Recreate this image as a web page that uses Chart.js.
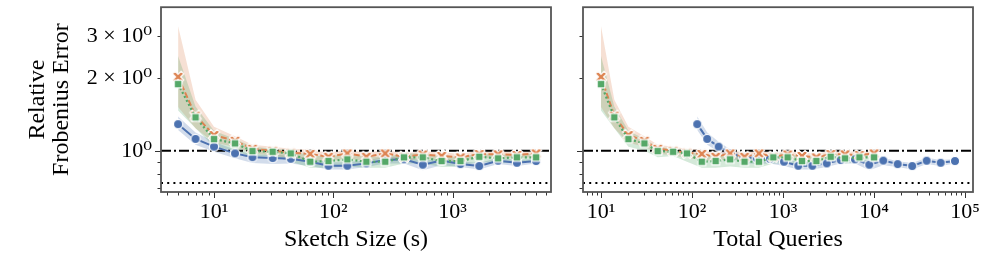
<!DOCTYPE html>
<html>
<head>
<meta charset="utf-8">
<script src="https://cdn.jsdelivr.net/npm/chart.js@4.4.1/dist/chart.umd.min.js"></script>
<style>
	html, body { margin:0; padding:0; background:#fff; }
	.panel { position:absolute; top:0; }
</style>
</head>
<body>
<div class="panel" style="left:0px"><canvas id="leftChart" width="560" height="257"></canvas></div>
<div class="panel" style="left:560px"><canvas id="rightChart" width="440" height="257"></canvas></div>
<script>
// ------------------- data -----------------------------------------------//
// sketch size s (left x) and total queries (right x)
const sketchSizes = [5,7,10,15,21,31,44,64,91,131,189,272,391,562,808,1162,1671,2402,3455,5000];
const queriesRest = [10,14,20,30,42,62,88,128,182,262,378,544,782,1124,1616,2324,3342,4804,6910,10000];
const queriesBlue = [114,147,196,266,366,513,719,1026,1472,2100,3020,4300,6180,8870,12650,18200,26300,37900,54000,77600];

// relative frobenius error (same y on both panels)
const blueErr = [1.29,1.12,1.04,0.975,0.94,0.932,0.926,0.90,0.866,0.866,0.886,0.915,0.921,0.875,0.91,0.88,0.864,0.909,0.891,0.906];
const blueLo  = [1.22,1.06,0.99,0.93,0.89,0.88,0.885,0.865,0.835,0.835,0.855,0.885,0.885,0.83,0.87,0.855,0.835,0.88,0.865,0.885];
const blueHi  = [1.39,1.19,1.09,1.01,0.965,0.96,0.955,0.93,0.895,0.895,0.915,0.94,0.95,0.905,0.935,0.905,0.89,0.935,0.915,0.925];

const orangeErr = [2.03,1.40,1.162,1.10,1.019,1.0,0.981,0.97,0.944,0.975,0.944,0.975,0.944,0.965,0.951,0.939,0.969,0.966,0.96,0.975];
const orangeLo  = [1.52,1.24,1.08,1.04,0.975,0.955,0.93,0.92,0.90,0.93,0.905,0.935,0.91,0.925,0.915,0.905,0.935,0.93,0.93,0.945];
const orangeHi  = [3.30,1.63,1.26,1.15,1.06,1.04,1.02,1.01,0.98,1.01,0.98,1.01,0.975,0.995,0.985,0.97,1.0,0.995,0.99,1.0];

const greenErr = [1.894,1.377,1.118,1.073,0.997,0.99,0.975,0.90,0.906,0.921,0.90,0.90,0.939,0.939,0.906,0.906,0.944,0.93,0.939,0.939];
const greenLo  = [1.47,1.24,1.04,1.0,0.94,0.95,0.90,0.85,0.85,0.86,0.85,0.85,0.885,0.885,0.855,0.86,0.90,0.885,0.895,0.90];
const greenHi  = [2.48,1.53,1.21,1.12,1.04,1.02,1.01,0.95,0.95,0.965,0.945,0.945,0.975,0.975,0.945,0.945,0.975,0.96,0.97,0.97];

const refLevel = 1.0;     // dash-dot line
const floorLevel = 0.734; // dotted line

// ticks
const yTicks = [0.7, 0.8, 0.9, 1, 2, 3];
const yTickLabels = { 1:'10⁰', 2:'2 × 10⁰', 3:'3 × 10⁰' };
const xTickLabels = { 10:'10¹', 100:'10²', 1000:'10³', 10000:'10⁴', 100000:'10⁵' };

// axis limits
const yMin = 0.6735, yMax = 3.958;
const leftXMin = 3.595, leftXMax = 6670;
const rightXMin = 6.34, rightXMax = 122400;

// ------------------- style --------------------------//
const BLUE = '#4C72B0', ORANGE = '#DD8452', GREEN = '#55A868';
const FONT = "'Liberation Serif', 'DejaVu Serif', serif";

// marker pictures (white edge like seaborn)
function makeMarker( kind, color ){
	const c = document.createElement('canvas');
	c.width = 16; c.height = 16;
	const g = c.getContext('2d');
	g.translate(8, 8);
	g.fillStyle = color; g.strokeStyle = '#fff'; g.lineWidth = 1.2;
	g.beginPath();
	if( kind == 'circle' ){
		g.arc(0, 0, 4.6, 0, Math.PI*2);
	} else if( kind == 'square' ){
		g.rect(-3.9, -3.9, 7.8, 7.8);
	} else {
		// filled X
		g.rotate(Math.PI/4);
		const a = 6.2, w = 1.8;
		const p = [[-w,-a],[w,-a],[w,-w],[a,-w],[a,w],[w,w],[w,a],[-w,a],[-w,w],[-a,w],[-a,-w],[-w,-w]];
		g.moveTo(p[0][0], p[0][1]);
		p.forEach( q => g.lineTo(q[0], q[1]) );
		g.closePath();
	}
	g.fill(); g.stroke();
	return c;
}
const blueMark = makeMarker('circle', BLUE);
const orangeMark = makeMarker('x', ORANGE);
const greenMark = makeMarker('square', GREEN);

function zip( xs, ys ){ return xs.map( (x,i) => ({ x: x, y: ys[i] }) ); }

function band( xs, ys, color, fill, order ){
	return { data: zip(xs, ys), borderColor:'rgba(0,0,0,0)', borderWidth:0, pointRadius:0,
		fill: fill, backgroundColor: color, order: order };
}

function makeSets( xBlue, xRest, xMin, xMax ){
	return [
		// reference lines
		{ data:[{x:xMin,y:refLevel},{x:xMax,y:refLevel}], borderColor:'#000', borderWidth:1.8, borderDash:[10,3,2,3], pointRadius:0, order:5 },
		{ data:[{x:xMin,y:floorLevel},{x:xMax,y:floorLevel}], borderColor:'#000', borderWidth:2, borderDash:[2,4.2], pointRadius:0, order:5 },
		// confidence bands
		band(xBlue, blueHi, 'rgba(76,114,176,0.25)', '+1', 20),
		band(xBlue, blueLo, 'rgba(0,0,0,0)', false, 20),
		band(xRest, orangeHi, 'rgba(221,132,82,0.25)', '+1', 19),
		band(xRest, orangeLo, 'rgba(0,0,0,0)', false, 19),
		band(xRest, greenHi, 'rgba(85,168,104,0.25)', '+1', 18),
		band(xRest, greenLo, 'rgba(0,0,0,0)', false, 18),
		// mean lines
		{ data: zip(xBlue, blueErr), borderColor:BLUE, borderWidth:2, pointStyle:blueMark, pointRadius:5, order:3 },
		{ data: zip(xRest, orangeErr), borderColor:ORANGE, borderWidth:2, borderDash:[6,2.5], pointStyle:orangeMark, pointRadius:5, order:2 },
		{ data: zip(xRest, greenErr), borderColor:GREEN, borderWidth:2.2, borderDash:[2,2.5], pointStyle:greenMark, pointRadius:5, order:1 }
	];
}

// 1..9 x 10^n ticks between min and max
function logTicks( min, max ){
	const out = [];
	for( let e = Math.floor(Math.log10(min)); e <= Math.ceil(Math.log10(max)); e++ ){
		for( let m = 1; m < 10; m++ ){
			const v = m * Math.pow(10, e);
			if( v >= min && v <= max ) out.push({ value: v, major: m == 1 });
		}
	}
	return out;
}

// frame + tick marks (major long, minor short)
const frameTicks = {
	id: 'frameTicks',
	afterDraw( chart ){
		const { ctx, chartArea:a, scales:{ x, y } } = chart;
		ctx.save();
		ctx.strokeStyle = '#333'; ctx.lineWidth = 1;
		ctx.beginPath();
		x.ticks.forEach( t => {
			const px = Math.round(x.getPixelForValue(t.value)) + 0.5;
			ctx.moveTo(px, a.bottom); ctx.lineTo(px, a.bottom + (t.major ? 6 : 3.5));
		});
		y.ticks.forEach( t => {
			const py = Math.round(y.getPixelForValue(t.value)) + 0.5;
			ctx.moveTo(a.left, py); ctx.lineTo(a.left - (t.major ? 6 : 3.5), py);
		});
		ctx.stroke();
		ctx.strokeStyle = '#555'; ctx.lineWidth = 1.8;
		ctx.strokeRect(a.left, a.top, a.right - a.left, a.bottom - a.top);
		ctx.restore();
	}
};

function makeChart( el, sets, opt ){
	return new Chart(el, {
		type: 'line',
		data: { datasets: sets },
		options: {
			responsive: false,
			animation: false,
			events: [],
			layout: { padding: opt.padding },
			plugins: { legend:{ display:false }, tooltip:{ enabled:false } },
			scales: {
				x: {
					type: 'logarithmic', min: opt.xMin, max: opt.xMax, bounds: 'data',
					grid: { display:false, drawTicks:false }, border: { display:false },
					afterBuildTicks: s => { s.ticks = logTicks(opt.xMin, opt.xMax); },
					afterFit: s => { s.height = 65; s.paddingLeft = 0; s.paddingRight = 0; },
					ticks: { autoSkip:false, maxRotation:0, padding:7, color:'#000',
						font:{ family:FONT, size:22 }, callback: v => xTickLabels[v] || '' },
					title: { display:true, text: opt.xTitle, color:'#000',
						font:{ family:FONT, size:24 }, padding:{ top:0, bottom:3 } }
				},
				y: {
					type: 'logarithmic', min: yMin, max: yMax, bounds: 'data',
					grid: { display:false, drawTicks:false }, border: { display:false },
					afterBuildTicks: s => { s.ticks = yTicks.map( v => ({ value: v, major: v == 1 }) ); },
					afterFit: s => { s.width = opt.yWidth; s.paddingTop = 0; s.paddingBottom = 0; },
					ticks: { display: opt.yLabels, autoSkip:false, padding:9, color:'#000',
						font:{ family:FONT, size:22 }, callback: v => yTickLabels[v] || '' },
					title: { display: opt.yLabels, text:['Relative', 'Frobenius Error'], color:'#000',
						font:{ family:FONT, size:24, lineHeight:1.0 }, padding:{ top:26, bottom:0 } }
				}
			}
		},
		plugins: [frameTicks]
	});
}

makeChart(document.getElementById('leftChart'),
	makeSets(sketchSizes, sketchSizes, leftXMin, leftXMax),
	{ xMin:leftXMin, xMax:leftXMax, xTitle:'Sketch Size (s)', yLabels:true, yWidth:161,
	  padding:{ left:0, right:9, top:7, bottom:0 } });

makeChart(document.getElementById('rightChart'),
	makeSets(queriesBlue, queriesRest, rightXMin, rightXMax),
	{ xMin:rightXMin, xMax:rightXMax, xTitle:'Total Queries', yLabels:false, yWidth:23,
	  padding:{ left:0, right:27, top:7, bottom:0 } });
</script>
</body>
</html>
